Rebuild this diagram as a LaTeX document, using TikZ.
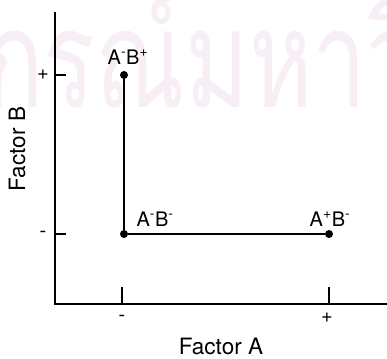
\documentclass[tikz,border=0pt]{standalone}
\usepackage{fontspec}
\setmainfont{TeX Gyre Heros}
\newfontfamily\thaifont[Script=Thai]{Loma}
\definecolor{wmark}{RGB}{248,238,246}
\tikzset{
  dot/.style={circle, fill=black, inner sep=0pt, minimum size=8pt},
  axis/.style={line width=1.3pt},
  lbl/.style={font=\fontsize{20}{20}\selectfont, inner sep=1pt},
  ttl/.style={font=\fontsize{22.5}{22.5}\selectfont}
}
\begin{document}
\begin{tikzpicture}[x=1pt,y=1pt]
\useasboundingbox (0,0) rectangle (387,358);
\begin{scope}
\clip (0,0) rectangle (387,358);
\node[wmark, font=\thaifont\fontsize{136}{136}\selectfont, anchor=west, xscale=0.71] (wm) at (-17,310) {กรณ์มหาวิทยา};
\end{scope}
% axes
\coordinate (o) at (55,54);
\coordinate (ytop) at (55,346);
\coordinate (xend) at (387,54);
\draw[axis] (ytop) -- (o) -- (xend);
% ticks
\coordinate (bp) at (55,283);
\coordinate (bm) at (55,124);
\coordinate (am) at (122,54);
\coordinate (ap) at (329,54);
\draw[axis] (bp) -- ++(11,0);
\draw[axis] (bm) -- ++(11,0);
\draw[axis] (am) -- ++(0,17);
\draw[axis] (ap) -- ++(0,17);
\node[lbl] (bplus) at (43,283) {+};
\node[lbl] (bminus) at (43,124) {-};
\node[lbl] (aminus) at (122,40) {-};
\node[lbl] (aplus) at (327,40) {+};
\node[ttl] (fa) at (221,12) {Factor A};
\node[ttl, rotate=90] (fb) at (17,209) {Factor B};
% points
\node[dot] (AmBp) at (124,283) {};
\node[dot] (AmBm) at (124,124) {};
\node[dot] (ApBm) at (329,124) {};
\draw[line width=1.2pt] (AmBp) -- (AmBm) -- (ApBm);
\node[lbl] (lAmBp) at (128,301) {A\textsuperscript{-}B\textsuperscript{+}};
\node[lbl] (lAmBm) at (155,139) {A\textsuperscript{-}B\textsuperscript{-}};
\node[lbl] (lApBm) at (330,139) {A\textsuperscript{+}B\textsuperscript{-}};
\end{tikzpicture}
\end{document}
